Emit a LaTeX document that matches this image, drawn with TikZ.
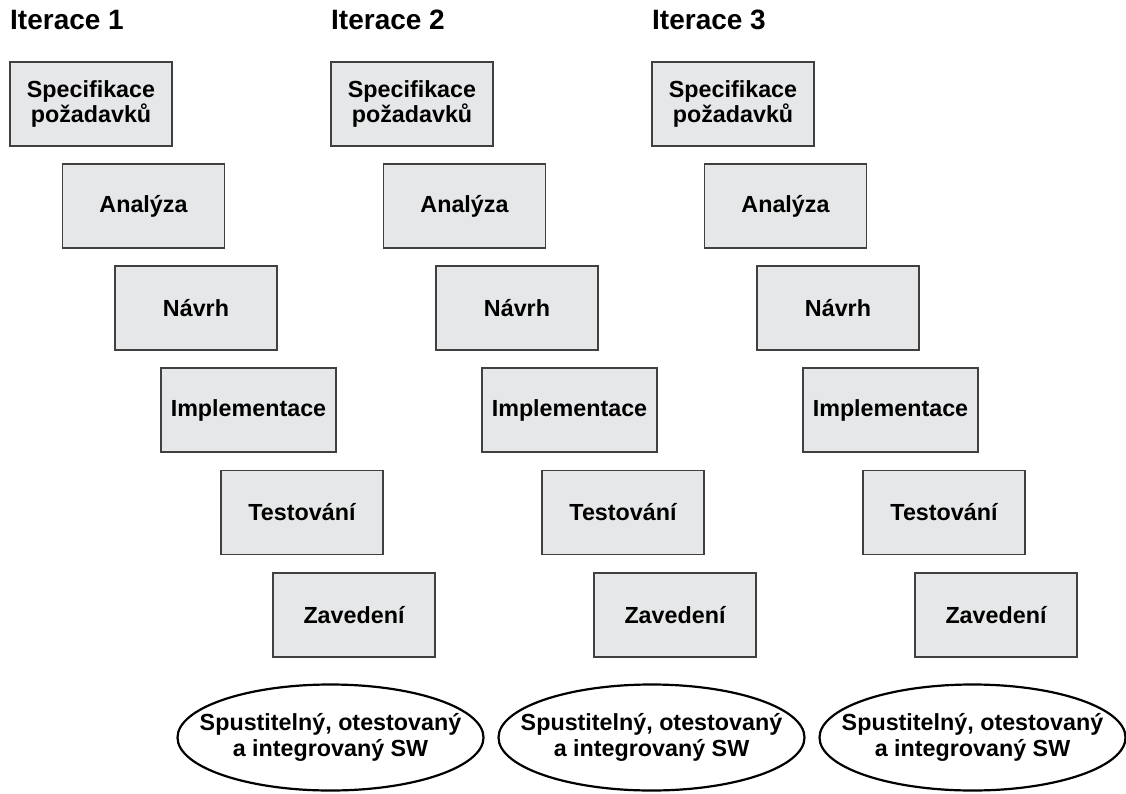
\documentclass[tikz,border=0pt]{standalone}
\usepackage{fontspec}
\setmainfont{Liberation Sans}
\definecolor{boxfill}{RGB}{230,231,232}
\definecolor{boxline}{RGB}{64,64,64}
\begin{document}
\begin{tikzpicture}[x=1pt,y=-1pt,
  stagebox/.style={draw=boxline, fill=boxfill, line width=1.2pt, minimum width=162pt,
    minimum height=84pt, inner sep=0pt, align=center,
    font=\fontsize{23.3}{21.7}\selectfont\bfseries},
  resultline/.style={draw=black, fill=white, line width=2.2pt},
  resulttext/.style={inner sep=0pt, align=center,
    font=\fontsize{23.3}{26}\selectfont\bfseries},
  itertitle/.style={anchor=base west, inner sep=0pt, font=\fontsize{28}{32}\selectfont\bfseries}]
\useasboundingbox (0,0) rectangle (1126,794);
\foreach \i in {1,2,3} {
  \pgfmathsetmacro\dx{321*(\i-1)}
  \node[itertitle] (t\i) at (10+\dx,30) {Iterace \i};
  \node[stagebox] (spec\i) at (91+\dx,104) {Specifikace\\požadavků};
  \node[stagebox] (anal\i) at (143.5+\dx,206) {Analýza};
  \node[stagebox] (navr\i) at (196+\dx,308) {Návrh};
  \node[stagebox, minimum width=175pt] (impl\i) at (248.5+\dx,410) {Implementace};
  \node[stagebox] (test\i) at (302+\dx,512.5) {Testování};
  \node[stagebox] (zave\i) at (354+\dx,615) {Zavedení};
  \coordinate (swc\i) at (330.5+\dx,737.5);
  \path[resultline] (swc\i) ellipse [x radius=153, y radius=53];
  \node[resulttext] (sw\i) at (swc\i) {Spustitelný, otestovaný\\a integrovaný SW};
}
\end{tikzpicture}
\end{document}
